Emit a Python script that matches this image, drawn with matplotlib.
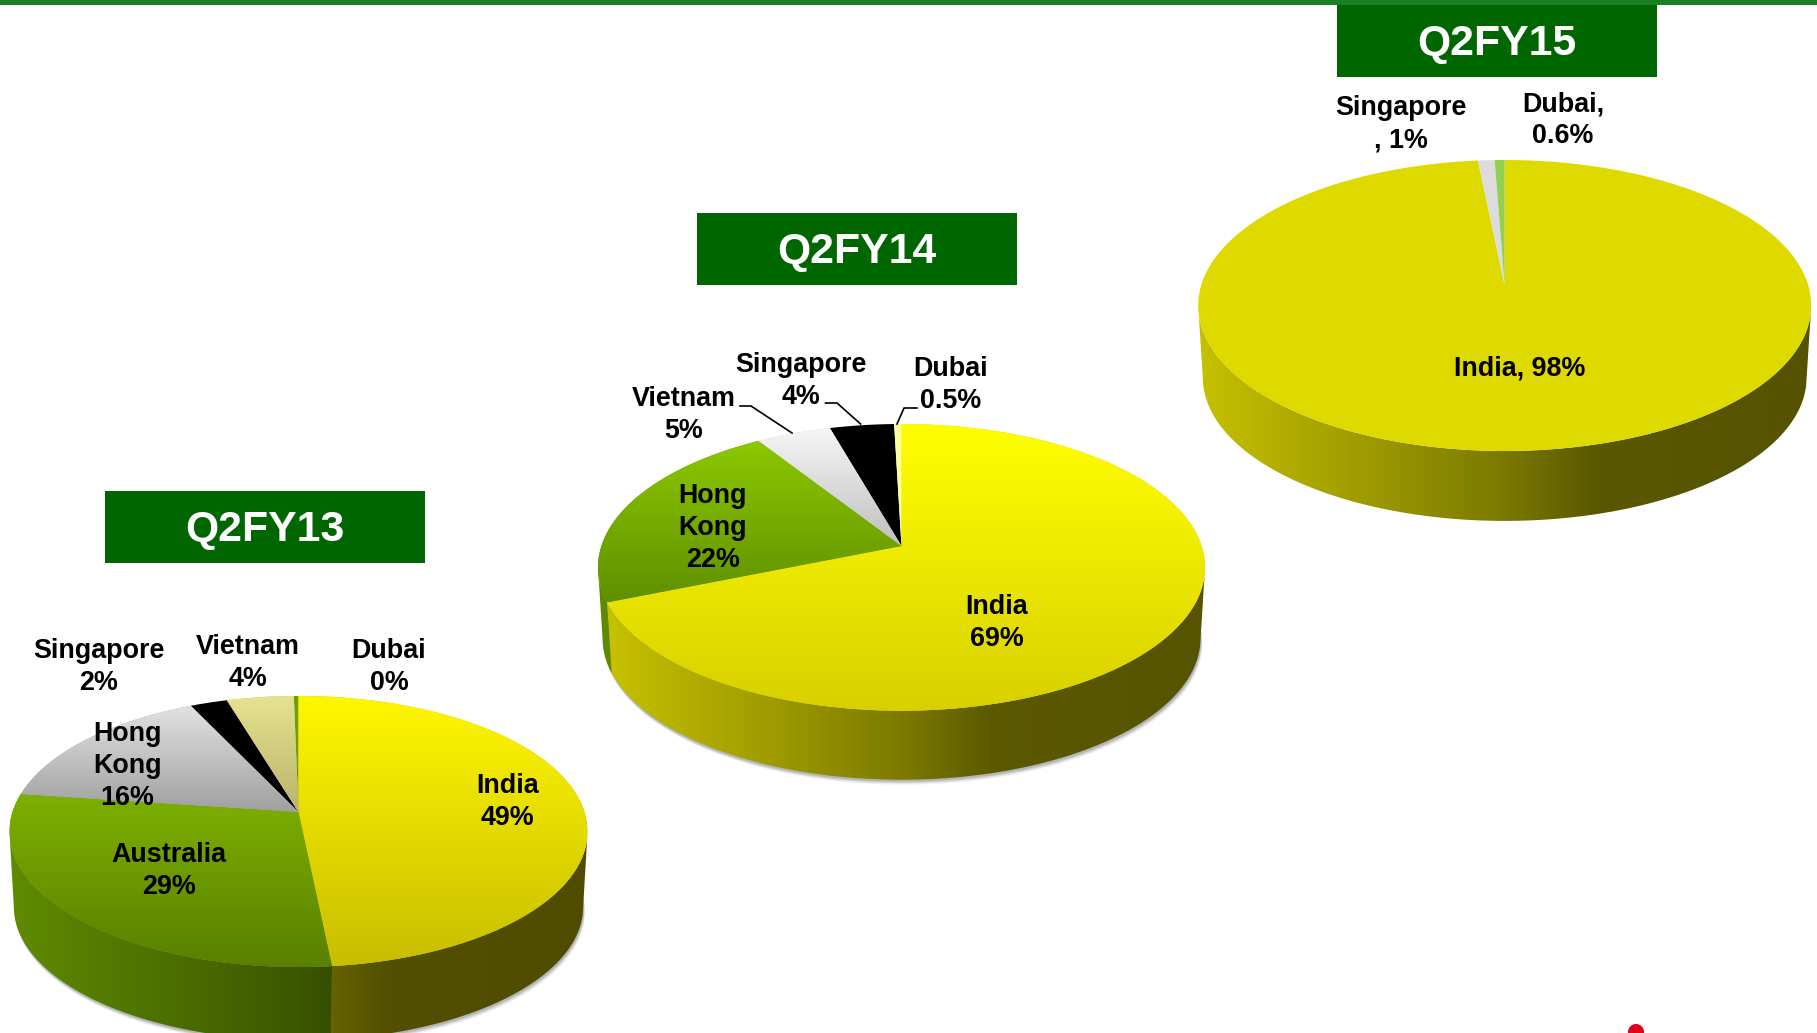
import numpy as np
import matplotlib
matplotlib.use("Agg")
import matplotlib.pyplot as plt
from matplotlib.colors import to_rgb
from matplotlib.patches import Rectangle, Circle, PathPatch
from matplotlib.path import Path
from matplotlib.transforms import Transform, Affine2D

plt.rcParams['font.family'] = ['Liberation Sans', 'DejaVu Sans']

# ---- data -----------------------------------------------------------------
titles = ["Q2FY13", "Q2FY14", "Q2FY15"]

categories_fy13 = ["India", "Australia", "Hong Kong", "Singapore", "Vietnam", "Dubai"]
values_fy13 = [48.4, 28.8, 15.8, 2.4, 4.3, 0.3]
labels_fy13 = ["India\n49%", "Australia\n29%", "Hong\nKong\n16%",
               "Singapore\n2%", "Vietnam\n4%", "Dubai\n0%"]

categories_fy14 = ["India", "Hong Kong", "Vietnam", "Singapore", "Dubai"]
values_fy14 = [68.8, 22.2, 4.6, 3.95, 0.45]
labels_fy14 = ["India\n69%", "Hong\nKong\n22%", "Vietnam\n5%",
               "Singapore\n4%", "Dubai\n0.5%"]

categories_fy15 = ["India", "Singapore", "Dubai"]
values_fy15 = [98.4, 1.0, 0.6]
labels_fy15 = ["India, 98%", "Singapore\n, 1%", "Dubai,\n0.6%"]

# ---- styles and layout ----------------------------------------------------
W, H = 1817, 1033
DARK = "#006600"


class Persp(Transform):
    """Projects the unit disc of a pie onto a tilted ellipse in pixels."""
    input_dims = output_dims = 2
    is_separable = False
    has_inverse = False

    def __init__(self, x0, y0, halfwidth, top, front):
        super().__init__()
        ratio = front / top
        self.c = (ratio - 1) / (ratio + 1)
        self.B = top * (1 + self.c)
        self.A = halfwidth * np.sqrt(1 - self.c ** 2)
        self.x0, self.y0 = x0, y0

    def transform_non_affine(self, v):
        v = np.asarray(v, float)
        w = 1 + self.c * v[:, 1]
        return np.column_stack((self.x0 + self.A * v[:, 0] / w,
                                self.y0 - self.B * v[:, 1] / w))

    def transform_path_non_affine(self, path):
        polys = path.transformed(Affine2D().scale(3000)).to_polygons(closed_only=False)
        return Path(self.transform_non_affine(np.vstack(polys) / 3000.0))


side_stops = [(0, .88), (.25, .72), (.5, .55), (.65, .40), (1, .38)]


def gradient(ax, top_c, bot_c, extent, clip, z):
    a = np.linspace(0, 1, 128)[:, None, None]
    img = (1 - a) * np.array(to_rgb(top_c)) + a * np.array(to_rgb(bot_c))
    im = ax.imshow(img, extent=extent, origin='upper', aspect='auto',
                   zorder=z, interpolation='bilinear')
    im.set_clip_path(clip)


def draw_pie(ax, values, fills, sides, geom, depth, shrink, shadow):
    persp = Persp(*geom)
    wedges, _ = ax.pie(values, startangle=90, counterclock=False, radius=1,
                       colors=[f[1] for f in fills],
                       wedgeprops=dict(linewidth=0))
    xl, xr = geom[0] - geom[2], geom[0] + geom[2]

    def lower(pts):
        return np.column_stack((geom[0] + (pts[:, 0] - geom[0]) * shrink,
                                geom[1] + (pts[:, 1] - geom[1]) * shrink + depth))

    if shadow:
        t = np.radians(np.linspace(180, 360, 200))
        low = lower(persp.transform_non_affine(np.column_stack((np.cos(t), np.sin(t)))))
        for off, alpha in [(5, .10), (4, .14), (3, .2), (2, .3)]:
            ax.fill(low[:, 0] + off * .4, low[:, 1] + off, color="#808080",
                    alpha=alpha, lw=0, zorder=1)

    for w, fill, base in zip(wedges, fills, sides):
        w.set_transform(persp + ax.transData)
        w.set_zorder(5)
        # top face
        ext = persp.transform_path(w.get_path()).get_extents()
        if fill[0] != fill[1]:
            gradient(ax, fill[0], fill[1], (ext.x0, ext.x1, ext.y1, ext.y0), w, 6)
        # side wall: the part of the rim that faces the viewer
        th = np.radians(np.linspace(w.theta1, w.theta2, 400))
        th = th[np.sin(th) <= -persp.c]
        if len(th) < 2:
            continue
        up = persp.transform_non_affine(np.column_stack((np.cos(th), np.sin(th))))
        poly = np.vstack((up, lower(up)[::-1]))
        patch = PathPatch(Path(poly), fc='none', ec='none', zorder=2)
        ax.add_patch(patch)
        n = 512
        fr = np.linspace(0, 1, n)
        fac = np.interp(fr, [s[0] for s in side_stops], [s[1] for s in side_stops])
        img = fac[None, :, None] * np.array(to_rgb(base))
        im = ax.imshow(img, extent=(xl, xr, H, 0), origin='upper', aspect='auto',
                       zorder=3, interpolation='bilinear')
        im.set_clip_path(patch)


fig = plt.figure(figsize=(W / 100, H / 100), dpi=100, facecolor='white')
ax = fig.add_axes([0, 0, 1, 1])

fills_fy13 = [("#FFF700", "#C8BE00"), ("#7DB000", "#5A8000"), ("#E2E2E2", "#A0A0A0"),
              ("#000000", "#000000"), ("#E6E290", "#B9B46A"), ("#6F9E00", "#6F9E00")]
sides_fy13 = ["#D0C800", "#6C9E00", "#A0A0A0", "#000000", "#B9B46A", "#6F9E00"]
fills_fy14 = [("#FFFF00", "#D9D000"), ("#8CC800", "#5F9000"), ("#F6F6F6", "#BFBFBF"),
              ("#000000", "#000000"), ("#FFFF99", "#FFFF99")]
sides_fy14 = ["#E4DE00", "#6C9E00", "#BFBFBF", "#000000", "#FFFF99"]
fills_fy15 = [("#DEDA00", "#DEDA00"), ("#DCDCDC", "#DCDCDC"), ("#92D050", "#92D050")]
sides_fy15 = ["#E0DB00", "#DCDCDC", "#92D050"]

draw_pie(ax, values_fy13, fills_fy13, sides_fy13, (298.5, 812, 289, 116, 155), 75.7, .985, True)
draw_pie(ax, values_fy14, fills_fy14, sides_fy14, (901.5, 546, 303.5, 122, 164.7), 71.5, .985, True)
draw_pie(ax, values_fy15, fills_fy15, sides_fy15, (1504.7, 285.5, 306.5, 125.5, 165.5), 72.4, .985, False)

ax.set_aspect('auto')
ax.set_xlim(0, W)
ax.set_ylim(H, 0)
ax.axis('off')

# top rule, title boxes, red dot
ax.add_patch(Rectangle((0, 0), W, 5, fc="#1A8026", ec='none', zorder=8))
boxes = [(105, 491, 320, 72), (696.5, 213, 320.5, 72), (1337, 5, 320, 72)]
for t, (bx, by, bw, bh) in zip(titles, boxes):
    ax.add_patch(Rectangle((bx, by), bw, bh, fc=DARK, ec='none', zorder=8))
    ax.text(bx + bw / 2, by + bh / 2 + 3.3, t, color='white', fontsize=30.8, weight='bold',
            ha='center', va='center', zorder=9)
ax.add_patch(Circle((1636, 1032), 8, fc="#E3001B", ec='none', zorder=8))

# slice labels
pos_fy13 = [(507.5, 802), (169, 871), (127.5, 766), (98.5, 667), (248, 662.5), (389, 667)]
pos_fy14 = [(996.5, 623), (713, 528), (684, 414.5), (801, 381), (951, 385.5)]
pos_fy15 = [(1520, 369), (1401, 124), (1563, 120)]
for labs, poss in [(labels_fy13, pos_fy13), (labels_fy14, pos_fy14), (labels_fy15, pos_fy15)]:
    for s, (x, y) in zip(labs, poss):
        ax.text(x, y, s, fontsize=19.4, weight='bold', color='black', ha='center',
                va='center', linespacing=1.3, zorder=10)

# leader lines of the Q2FY14 pie
leaders = [[(740, 406), (751, 406), (792, 433)],
           [(825.5, 403), (837, 403), (860.6, 424)],
           [(917, 408), (904, 408), (897, 424)]]
for seg in leaders:
    xs, ys = zip(*seg)
    ax.plot(xs, ys, color='black', lw=1.2, zorder=10)

fig.savefig("out.png", dpi=100, facecolor='white')
